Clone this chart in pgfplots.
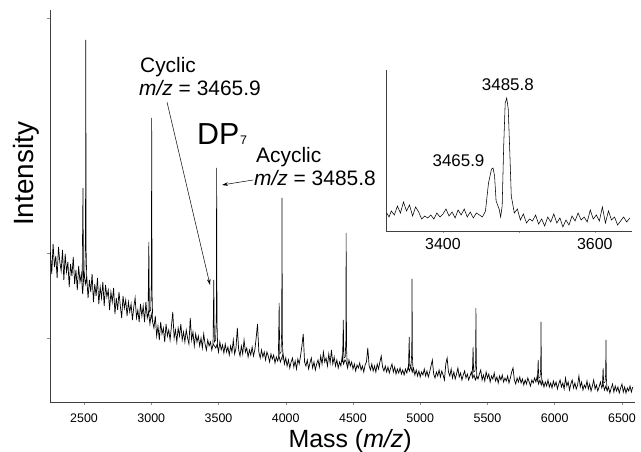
\documentclass[border=0pt]{standalone}
\usepackage{fontspec}
\setmainfont{Liberation Sans}
\usepackage{pgfplots}
\pgfplotsset{compat=1.18}
\usetikzlibrary{arrows.meta}
\newcommand{\fs}[1]{\fontsize{#1}{#1}\selectfont}

\begin{document}
\begin{tikzpicture}
\useasboundingbox (0,0) rectangle (641bp,452bp);

% main spectrum
\begin{axis}[at={(50bp,50bp)}, anchor=south west, scale only axis,
    width=585bp, height=392bp,
    xmin=2247, xmax=6597, ymin=0, ymax=392,
    axis lines=left, axis line style={-, black!75, line width=0.7bp},
    xtick={2500,3000,...,6500}, ytick={64,149,384}, yticklabels={},
    tick align=outside, major tick length=3bp, tick style={black!45, line width=0.5bp},
    ticklabel style={font=\fs{12.5}}, xticklabel style={inner sep=0pt, yshift=-9bp},
    /pgf/number format/assume math mode=true, /pgf/number format/1000 sep={},
    scaled x ticks=false, clip=false, unbounded coords=jump]

  % noisy baseline
  \addplot[black, line width=0.7bp] coordinates {
    (2250,150) (2260,128) (2270,158) (2280,135) (2290,146) (2300,124) (2310,155) (2320,140) (2330,131) (2340,152)
    (2350,122) (2360,148) (2370,130) (2380,140) (2390,115) (2400,138) (2410,126) (2420,145) (2430,118) (2440,132)
    (2450,112) (2460,136) (2470,120) (2480,128) (2490,108) (2500,130) (2510,118) (2520,125) (2530,104) (2540,122)
    (2550,110) (2560,128) (2570,100) (2580,118) (2590,106) (2600,124) (2610,98) (2620,115) (2630,104) (2640,120)
    (2650,96) (2660,117) (2670,105) (2680,112) (2690,92) (2700,110) (2710,100) (2720,114) (2730,88) (2740,104)
    (2750,92) (2760,110) (2770,96) (2780,84) (2790,106) (2800,94) (2810,102) (2820,86) (2830,100) (2840,90)
    (2850,98) (2860,82) (2870,95) (2880,104) (2890,84) (2900,92) (2910,80) (2920,98) (2930,86) (2940,96)
    (2950,80) (2960,100) (2970,84) (2980,90) (2990,78) (3000,88) (3010,80) (3020,74) (3030,86) (3040,66)
    (3050,76) (3060,62) (3070,80) (3080,68) (3090,74) (3100,60) (3110,78) (3120,66) (3130,72) (3140,62)
    (3150,76) (3160,90) (3170,64) (3180,72) (3190,60) (3200,74) (3210,66) (3220,78) (3230,62) (3240,70)
    (3250,60) (3260,72) (3270,64) (3280,58) (3290,84) (3300,62) (3310,70) (3320,56) (3330,68) (3340,60)
    (3350,66) (3360,56) (3370,64) (3380,54) (3390,68) (3400,58) (3410,52) (3420,62) (3430,56) (3440,60)
    (3450,52) (3460,58) (3470,56) (3480,54) (3490,58) (3500,50) (3510,60) (3520,52) (3530,57) (3540,49)
    (3550,58) (3560,50) (3570,55) (3580,47) (3590,56) (3600,50) (3610,62) (3620,48) (3630,54) (3640,74)
    (3650,52) (3660,46) (3670,56) (3680,48) (3690,62) (3700,50) (3710,54) (3720,45) (3730,52) (3740,47)
    (3750,55) (3760,46) (3770,52) (3780,64) (3790,78) (3800,50) (3810,44) (3820,52) (3830,45) (3840,50)
    (3850,42) (3860,50) (3870,46) (3880,40) (3890,48) (3900,43) (3910,47) (3920,39) (3930,45) (3940,41)
    (3950,46) (3960,40) (3970,44) (3980,48) (3990,38) (4000,44) (4010,36) (4020,42) (4030,34) (4040,40)
    (4050,44) (4060,35) (4070,41) (4080,33) (4090,43) (4100,38) (4110,46) (4120,56) (4130,68) (4140,40)
    (4150,36) (4160,42) (4170,33) (4180,39) (4190,44) (4200,34) (4210,40) (4220,32) (4230,38) (4240,42)
    (4250,35) (4260,46) (4270,38) (4280,50) (4290,40) (4300,44) (4310,36) (4320,48) (4330,39) (4340,52)
    (4350,38) (4360,45) (4370,36) (4380,42) (4390,34) (4400,40) (4410,36) (4420,46) (4430,38) (4440,42)
    (4450,40) (4460,34) (4470,42) (4480,36) (4490,40) (4500,33) (4510,38) (4520,31) (4530,37) (4540,34)
    (4550,39) (4560,32) (4570,36) (4580,30) (4590,37) (4600,40) (4610,54) (4620,36) (4630,32) (4640,38)
    (4650,31) (4660,36) (4670,30) (4680,38) (4690,33) (4700,40) (4710,46) (4720,35) (4730,31) (4740,36)
    (4750,30) (4760,35) (4770,29) (4780,34) (4790,38) (4800,30) (4810,35) (4820,28) (4830,33) (4840,29)
    (4850,34) (4860,28) (4870,32) (4880,27) (4890,33) (4900,29) (4910,35) (4920,31) (4930,36) (4940,30)
    (4950,34) (4960,27) (4970,32) (4980,26) (4990,31) (5000,25) (5010,30) (5020,27) (5030,33) (5040,26)
    (5050,31) (5060,25) (5070,30) (5080,36) (5090,42) (5100,28) (5110,24) (5120,30) (5130,26) (5140,32)
    (5150,25) (5160,31) (5170,27) (5180,22) (5190,38) (5200,44) (5210,30) (5220,26) (5230,33) (5240,24)
    (5250,30) (5260,23) (5270,28) (5280,34) (5290,25) (5300,29) (5310,22) (5320,27) (5330,31) (5340,24)
    (5350,28) (5360,22) (5370,26) (5380,30) (5390,24) (5400,27) (5410,22) (5420,26) (5430,23) (5440,28)
    (5450,32) (5460,22) (5470,27) (5480,21) (5490,30) (5500,24) (5510,28) (5520,20) (5530,26) (5540,23)
    (5550,29) (5560,21) (5570,25) (5580,19) (5590,26) (5600,22) (5610,27) (5620,20) (5630,24) (5640,21)
    (5650,26) (5660,19) (5670,24) (5680,30) (5690,34) (5700,22) (5710,18) (5720,24) (5730,20) (5740,25)
    (5750,19) (5760,23) (5770,17) (5780,22) (5790,18) (5800,24) (5810,20) (5820,16) (5830,22) (5840,19)
    (5850,24) (5860,20) (5870,26) (5880,18) (5890,22) (5900,17) (5910,21) (5920,15) (5930,20) (5940,16)
    (5950,22) (5960,15) (5970,19) (5980,14) (5990,21) (6000,16) (6010,20) (6020,13) (6030,18) (6040,22)
    (6050,15) (6060,19) (6070,13) (6080,24) (6090,16) (6100,20) (6110,12) (6120,18) (6130,22) (6140,14)
    (6150,19) (6160,13) (6170,17) (6180,26) (6190,15) (6200,20) (6210,12) (6220,17) (6230,14) (6240,21)
    (6250,13) (6260,18) (6270,11) (6280,16) (6290,22) (6300,13) (6310,17) (6320,11) (6330,15) (6340,20)
    (6350,14) (6360,18) (6370,12) (6380,16) (6390,11) (6400,15) (6410,9) (6420,14) (6430,18) (6440,10)
    (6450,16) (6460,11) (6470,15) (6480,9) (6490,14) (6500,18) (6510,10) (6520,15) (6530,9) (6540,14)
    (6550,11) (6560,16) (6570,10) (6580,15)
  };

  % DP5 ... DP13 peaks (cyclic shoulder 20 below the acyclic peak)
  \addplot[black, line width=0.6bp] coordinates {
    (2486,120) (2492,214) (2496,125) (2506,128) (2511,170) (2513,362) (2516,150) (2521,118) (2530,nan)
    (2976,86) (2982,160) (2986,90) (2996,92) (3001,120) (3003,284) (3006,110) (3011,80) (3020,nan)
    (3459,58) (3465,122) (3469,60) (3479,62) (3484,90) (3486,234) (3489,80) (3494,54) (3500,nan)
    (3945,45) (3951,99) (3955,48) (3965,50) (3970,72) (3972,204) (3975,62) (3980,42) (3990,nan)
    (4422,40) (4428,82) (4432,44) (4442,45) (4447,62) (4449,169) (4452,55) (4457,37) (4465,nan)
    (4912,32) (4918,65) (4922,36) (4932,37) (4937,50) (4939,123) (4942,45) (4947,29) (4955,nan)
    (5387,26) (5393,55) (5397,30) (5407,31) (5412,42) (5414,94) (5417,38) (5422,23) (5430,nan)
    (5871,20) (5877,42) (5881,24) (5891,25) (5896,34) (5898,80) (5901,30) (5906,17) (5915,nan)
    (6354,16) (6360,34) (6364,19) (6374,20) (6379,28) (6381,62) (6384,24) (6389,13)
  };

  % annotations
  \node[anchor=base west, inner sep=0pt, font=\fs{21}] at (axis cs:2916,329) {Cyclic};
  \node[anchor=base west, inner sep=0pt, font=\fs{21}] at (axis cs:2909,306) {\textit{m/z} = 3465.9};
  \draw[black, line width=0.5bp, -{Stealth[length=6bp,width=3.5bp]}] (axis cs:3117,300) -- (axis cs:3437,117);
  \node[anchor=base west, inner sep=0pt, font=\fs{30.5}] at (axis cs:3340,257) {DP};
  \node[anchor=base west, inner sep=0pt, font=\fs{12.5}] at (axis cs:3660,257) {7};
  \node[anchor=base west, inner sep=0pt, font=\fs{21}] at (axis cs:3779,239) {Acyclic};
  \node[anchor=base west, inner sep=0pt, font=\fs{21}] at (axis cs:3764,216) {\textit{m/z} = 3485.8};
  \draw[black, line width=0.5bp, -{Stealth[length=6bp,width=3.5bp]}] (axis cs:3757,222) -- (axis cs:3526,217);

  % axis titles
  \node[anchor=base, inner sep=0pt, font=\fs{25}] at (axis description cs:0.513,0) [yshift=-45bp] {Mass (\textit{m/z})};
  \node[rotate=90, anchor=base, inner sep=0pt, font=\fs{28}] at (axis description cs:-0.029,0.582) {Intensity};
\end{axis}

% inset
\begin{axis}[at={(386bp,221bp)}, anchor=south west, scale only axis,
    width=246bp, height=161bp,
    xmin=3325, xmax=3649, ymin=0, ymax=161,
    axis lines=left, axis line style={-, black!75, line width=0.6bp},
    xtick={3400,3500,3600}, xticklabels={3400,,3600}, ytick=\empty,
    tick align=outside, major tick length=2bp, tick style={black!40, line width=0.4bp},
    ticklabel style={font=\fs{16}}, xticklabel style={inner sep=0pt, yshift=-5bp},
    /pgf/number format/assume math mode=true, /pgf/number format/1000 sep={},
    scaled x ticks=false, clip=false]
  \addplot[black, line width=0.55bp] coordinates {
    (3326,18) (3329,14) (3332,20) (3336,16) (3340,25) (3344,18) (3348,29) (3352,20) (3356,26) (3360,15)
    (3364,24) (3368,19) (3372,12) (3376,15) (3380,13) (3384,16) (3388,12) (3392,18) (3396,14) (3400,17)
    (3404,22) (3408,15) (3412,19) (3416,13) (3420,21) (3424,16) (3428,22) (3432,14) (3436,19) (3440,13)
    (3444,18) (3448,16) (3452,14) (3456,20) (3460,48) (3464,62) (3466,63) (3468,55) (3470,30) (3474,22)
    (3476,14) (3478,25) (3480,85) (3482,128) (3484,133) (3486,122) (3488,80) (3490,35) (3494,18) (3498,22)
    (3502,11) (3506,17) (3510,8) (3514,12) (3518,10) (3522,16) (3526,7) (3530,12) (3534,5) (3538,14)
    (3542,9) (3546,17) (3550,8) (3554,13) (3558,4) (3562,11) (3566,6) (3570,15) (3574,10) (3578,18)
    (3582,11) (3586,14) (3590,9) (3594,21) (3598,12) (3602,16) (3606,10) (3610,24) (3614,8) (3618,20)
    (3622,11) (3626,14) (3630,6) (3634,10) (3638,14) (3642,9) (3646,13)
  };
  \node[anchor=base, inner sep=0pt, font=\fs{17}] at (axis cs:3485.5,140) {3485.8};
  \node[anchor=base, inner sep=0pt, font=\fs{17}] at (axis cs:3420.5,64) {3465.9};
\end{axis}
\end{tikzpicture}
\end{document}
